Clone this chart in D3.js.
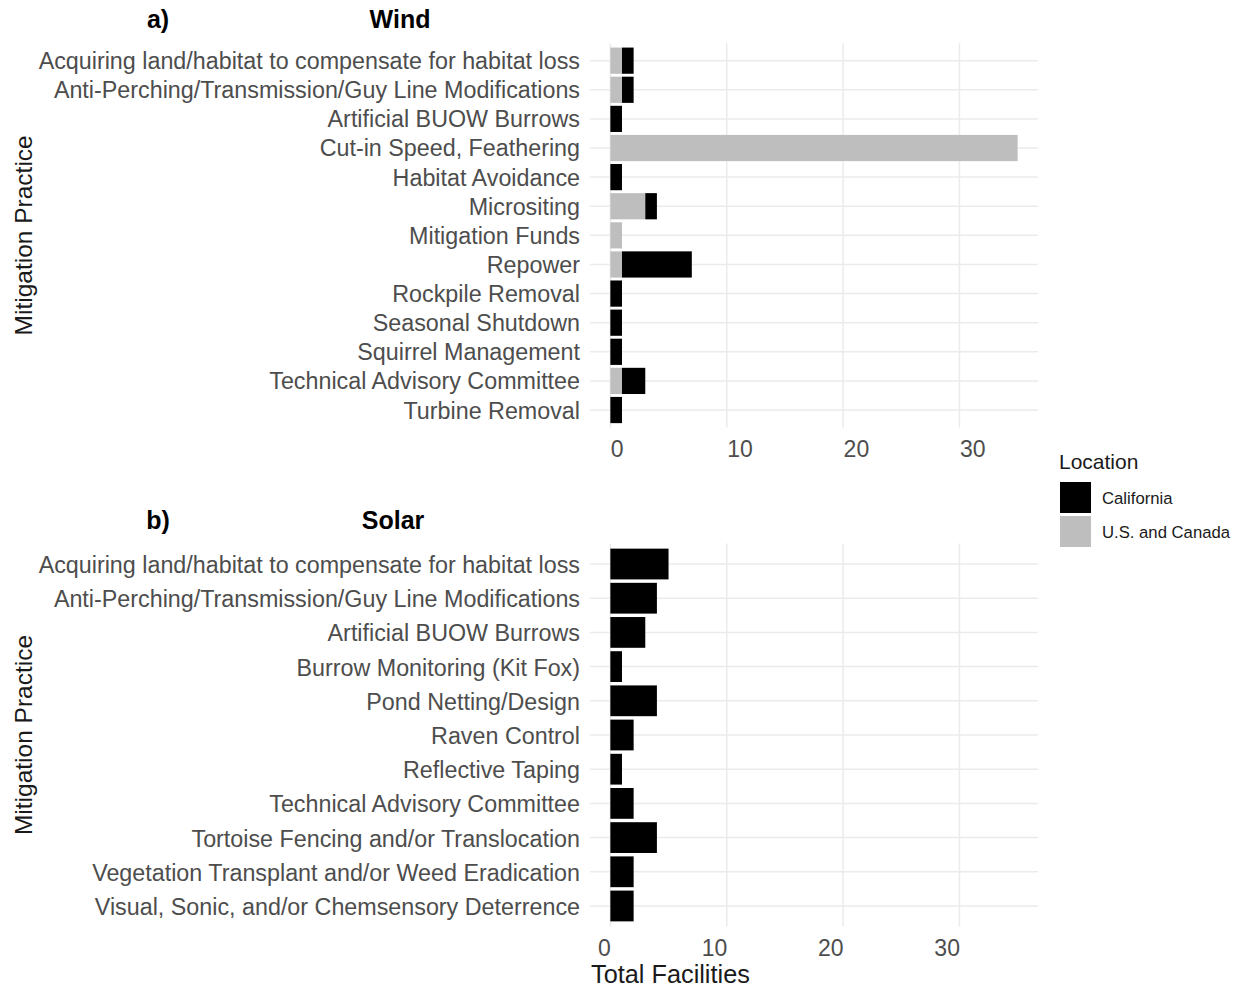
<!DOCTYPE html>
<html><head><meta charset="utf-8">
<script src="https://cdn.jsdelivr.net/npm/d3@7"></script>
<style>body{margin:0;background:#fff}svg{display:block}text{font-family:"Liberation Sans",Arial,sans-serif}</style>
</head><body>
<script>
const windCategories = ["Acquiring land/habitat to compensate for habitat loss","Anti-Perching/Transmission/Guy Line Modifications","Artificial BUOW Burrows","Cut-in Speed, Feathering","Habitat Avoidance","Micrositing","Mitigation Funds","Repower","Rockpile Removal","Seasonal Shutdown","Squirrel Management","Technical Advisory Committee","Turbine Removal"];
const windUSCanada  = [1,1,0,35,0,3,1,1,0,0,0,1,0];
const windCalifornia = [1,1,1,0,1,1,0,6,1,1,1,2,1];
const solarCategories = ["Acquiring land/habitat to compensate for habitat loss","Anti-Perching/Transmission/Guy Line Modifications","Artificial BUOW Burrows","Burrow Monitoring (Kit Fox)","Pond Netting/Design","Raven Control","Reflective Taping","Technical Advisory Committee","Tortoise Fencing and/or Translocation","Vegetation Transplant and/or Weed Eradication","Visual, Sonic, and/or Chemsensory Deterrence"];
const solarCalifornia = [5,4,3,1,4,2,1,2,4,2,2];
const solarUSCanada = [0,0,0,0,0,0,0,0,0,0,0];
const xTicks = [0,10,20,30];
const locations = ["California","U.S. and Canada"];
const locColors = ["#000000","#bebebe"];

const W=1241,H=989;
const svg=d3.select("body").append("svg").attr("width",W).attr("height",H);

const maxV = d3.max(windCategories.map((c,i)=>windUSCanada[i]+windCalifornia[i]));
const pad = maxV*0.05;
const x = d3.scaleLinear().domain([-pad, maxV+pad]).range([590,1038]);

function panel(cats, us, ca, top, bottom, letter, title, titleX, labelAnchor, labelShift){
  const y = d3.scaleBand().domain(cats).range([top,bottom]).paddingInner(0.1).paddingOuter(0.15);
  const g = svg.append("g");
  g.selectAll("line.v").data(xTicks).join("line")
    .attr("x1",d=>x(d)).attr("x2",d=>x(d)).attr("y1",top).attr("y2",bottom)
    .attr("stroke","#ebebeb").attr("stroke-width",1.5);
  g.selectAll("line.h").data(cats).join("line")
    .attr("x1",590).attr("x2",1038).attr("y1",d=>y(d)+y.bandwidth()/2).attr("y2",d=>y(d)+y.bandwidth()/2)
    .attr("stroke","#ebebeb").attr("stroke-width",1.5);
  const rows = cats.map((c,i)=>({c, us:us[i], ca:ca[i]}));
  g.selectAll("rect.us").data(rows.filter(r=>r.us>0)).join("rect")
    .attr("x",d=>x(0)).attr("width",d=>x(d.us)-x(0))
    .attr("y",d=>y(d.c)).attr("height",y.bandwidth()).attr("fill",locColors[1]);
  g.selectAll("rect.ca").data(rows.filter(r=>r.ca>0)).join("rect")
    .attr("x",d=>x(d.us)).attr("width",d=>x(d.us+d.ca)-x(d.us))
    .attr("y",d=>y(d.c)).attr("height",y.bandwidth()).attr("fill",locColors[0]);
  const ya = d3.axisLeft(y).tickSize(0).tickPadding(0);
  const yg = g.append("g").attr("transform",`translate(580,${labelShift})`).call(ya);
  yg.select(".domain").remove();
  yg.selectAll("text").attr("font-size",23.3).attr("fill","#4d4d4d").attr("font-family","Liberation Sans, Arial, sans-serif");
  const xa = d3.axisBottom(x).tickValues(xTicks).tickSize(0).tickPadding(0);
  const xg = g.append("g").attr("transform",`translate(0,${bottom+13})`).call(xa);
  xg.select(".domain").remove();
  xg.selectAll("text").attr("font-size",23).attr("fill","#4d4d4d").attr("text-anchor",labelAnchor)
    .attr("font-family","Liberation Sans, Arial, sans-serif");
  svg.append("text").attr("x",158).attr("y",top-15).attr("text-anchor","middle").attr("font-size",25).attr("font-weight","bold").text(letter);
  svg.append("text").attr("x",titleX).attr("y",top-15).attr("text-anchor","middle").attr("font-size",25).attr("font-weight","bold").text(title);
  svg.append("text").attr("transform",`translate(32,${(top+bottom)/2}) rotate(-90)`).attr("text-anchor","middle")
    .attr("font-size",24.5).attr("fill","#1a1a1a").text("Mitigation Practice");
}
panel(windCategories, windUSCanada, windCalifornia, 43.2, 427.5, "a)", "Wind", 400, "start", 1);
panel(solarCategories, solarUSCanada, solarCalifornia, 543.5, 926.5, "b)", "Solar", 393, "end", 1.5);

svg.append("text").attr("x",591).attr("y",983).attr("font-size",25.3).attr("fill","#1a1a1a").text("Total Facilities");

const lg = svg.append("g");
lg.append("text").attr("x",1059).attr("y",469).attr("font-size",21).attr("fill","#1a1a1a").text("Location");
lg.selectAll("rect").data(locations).join("rect")
  .attr("x",1060).attr("y",(d,i)=>482+i*34).attr("width",31).attr("height",31).attr("fill",(d,i)=>locColors[i]);
lg.selectAll("text.k").data(locations).join("text").attr("class","k")
  .attr("x",1102).attr("y",(d,i)=>498+i*34).attr("dy","0.35em").attr("font-size",16.7).attr("fill","#1a1a1a").text(d=>d);
</script>
</body></html>
